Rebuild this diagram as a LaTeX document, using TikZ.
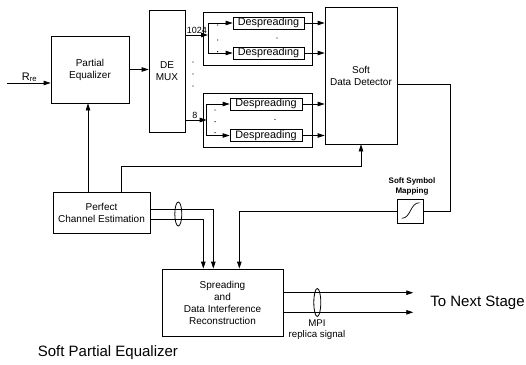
\documentclass[tikz,border=0pt]{standalone}
\usepackage{fontspec}
\setmainfont{Liberation Sans}
\usetikzlibrary{arrows.meta,shapes.geometric}
\begin{document}
\begin{tikzpicture}[x=1pt,y=-1pt,line width=0.8pt,
  box/.style={draw, inner sep=0pt, align=center, font=\fontsize{10}{12}\selectfont},
  despbox/.style={draw, inner sep=0pt, minimum width=71pt, minimum height=12pt, font=\fontsize{10.8}{12}\selectfont},
  arr/.style={-{Triangle[length=7pt,width=4.5pt]}},
  bundle/.style={draw, ellipse, inner sep=0pt},
  lbl/.style={inner sep=0pt, align=center},
  dotmark/.style={fill=black}
]
\useasboundingbox (0,0) rectangle (526,364);

% main boxes
\node[box, minimum width=78pt, minimum height=67pt] (pe) at (90,69.5) {Partial\\Equalizer};
\node[box, minimum width=36pt, minimum height=122pt] (mux) at (167,71) {DE\\MUX};
\node[box, minimum width=109pt, minimum height=53pt] (g1) at (257.5,38.5) {};
\node[box, minimum width=109pt, minimum height=54pt] (g2) at (257.5,120) {};
\node[despbox] (d1) at (268.5,23) {Despreading};
\node[despbox] (d2) at (268.5,53) {Despreading};
\node[despbox, minimum width=72pt] (d3) at (266,104) {Despreading};
\node[despbox, minimum width=72pt] (d4) at (266,135.5) {Despreading};
\node[box, minimum width=72pt, minimum height=137pt] (sdd) at (361,75.5) {Soft\\Data Detector};
\node[box, minimum width=26pt, minimum height=24pt] (ssm) at (410,211) {};
\node[box, minimum width=97pt, minimum height=41pt] (pce) at (101.5,212.5) {Perfect\\Channel Estimation};
\node[box, minimum width=121pt, minimum height=67pt] (sp) at (222.5,302.5) {Spreading\\and\\Data Interference\\Reconstruction};

% sigmoid inside soft symbol mapping
\draw[line width=0.7pt] (401.7,218.3) .. controls (411,218.3) and (410,202.7) .. (419.5,202.7);

% labels
\node[lbl, anchor=base west, font=\fontsize{11}{13}\selectfont] (rlbl) at (21.5,80) {R\textsubscript{re}};
\node[lbl, anchor=base west, font=\fontsize{9}{11}\selectfont] (l1024) at (186.5,33.8) {1024};
\node[lbl, anchor=base west, font=\fontsize{9}{11}\selectfont] (l8) at (192,118.5) {8};
\node[lbl, font=\bfseries\fontsize{8}{9.3}\selectfont] (ssmlbl) at (412,186.3) {Soft Symbol\\Mapping};
\node[lbl, font=\fontsize{9.7}{11}\selectfont] (mpi) at (317,329.5) {MPI\\replica signal};
\node[lbl, anchor=west, font=\fontsize{15}{18}\selectfont] (next) at (430,303) {To Next Stage};
\node[lbl, anchor=west, font=\fontsize{15}{18}\selectfont] (title) at (37.5,353) {Soft Partial Equalizer};

% coordinates
\coordinate (rin) at (7,83);
\coordinate (b1) at (208,35);
\coordinate (b2) at (206.7,120);
\coordinate (c1) at (450.7,84);
\coordinate (k0) at (88,0);
\coordinate (k1) at (121.7,166.7);
\coordinate (k3) at (239.3,0);
\coordinate (k4) at (213.3,209);
\coordinate (k5) at (203.3,219);
\coordinate (o1) at (413.3,292.7);
\coordinate (o2) at (413.3,312.3);

% connectors
\draw[arr] (rin) -- (rin -| pe.west);
\draw[arr] (pe.east) -- (pe.east -| mux.west);
\draw[arr] (mux.east |- b1) -- (b1);
\draw (b1 |- d1) -- (b1 |- d2);
\draw[arr] (b1 |- d1) -- (d1.west);
\draw[arr] (b1 |- d2) -- (d2.west);
\draw[arr] (mux.east |- b2) -- (b2);
\draw (b2 |- d3) -- (b2 |- d4);
\draw[arr] (b2 |- d3) -- (d3.west);
\draw[arr] (b2 |- d4) -- (d4.west);
\draw[arr] (d1.east) -- (d1.east -| sdd.west);
\draw[arr] (d2.east) -- (d2.east -| sdd.west);
\draw[arr] (d3.east) -- (d3.east -| sdd.west);
\draw[arr] (d4.east) -- (d4.east -| sdd.west);
\draw (c1 -| sdd.east) -- (c1) |- (ssm.east);
\draw[arr] (ssm.west) -| (k3 |- sp.north);
\draw[arr] (k0 |- pce.north) -- (k0 |- pe.south);
\draw[arr] (k1 |- pce.north) -- (k1) -| (sdd.south);
\draw[arr] (k4 -| pce.east) -| (k4 |- sp.north);
\draw[arr] (k5 -| pce.east) -| (k5 |- sp.north);
\draw[arr] (o1 -| sp.east) -- (o1);
\draw[arr] (o2 -| sp.east) -- (o2);

% bundle ellipses
\node[bundle, minimum width=7pt, minimum height=24pt] (e1) at (178.3,214) {};
\node[bundle, minimum width=7pt, minimum height=28pt] (e2) at (317.3,302.5) {};

% dots
\foreach \p in {(193,62),(193,74),(193,86),(217.7,25),(217.7,40),(217.7,51.7),(277,38),(215,110),(215,121.7),(215,132.7),(275,119.5)}
  \fill[dotmark] \p circle (0.7);
\end{tikzpicture}
\end{document}
